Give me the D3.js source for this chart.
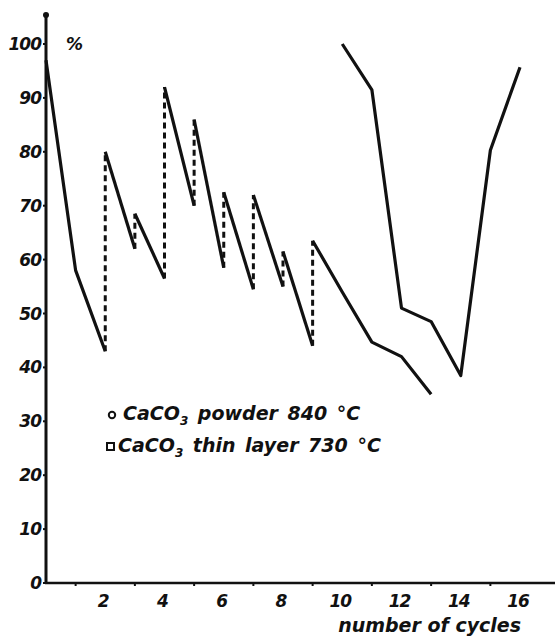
<!DOCTYPE html>
<html>
<head>
<meta charset="utf-8">
<script src="https://cdn.jsdelivr.net/npm/d3@7"></script>
<style>
  body { margin: 0; background: #fff; }
  svg { display: block; }
  text { font-family: "DejaVu Sans", sans-serif; font-style: italic; fill: #111; }
  .legend { white-space: pre; }
</style>
</head>
<body>
<div id="chart"></div>
<script>
// y ticks and x ticks
var yTicks = [0, 10, 20, 30, 40, 50, 60, 70, 80, 90, 100];
var xTicks = [2, 4, 6, 8, 10, 12, 14, 16];
var xMinor = [1, 3, 5, 7, 9, 11, 13, 15];

// CaCO3 powder 840 C: solid runs, joined by dashed jumps at the same cycle
var powderRuns = [
    [[0, 97], [1, 58], [2, 43]],
    [[2, 80], [3, 62]],
    [[3, 68.5], [4, 56.5]],
    [[4, 92], [5, 70]],
    [[5, 86], [6, 58.5]],
    [[6, 72.5], [7, 54.5]],
    [[7, 72], [8, 55]],
    [[8, 61.5], [9, 44]],
    [[9, 63.5], [10, 54], [11, 44.7], [12, 42], [13, 35]]
];

// CaCO3 thin layer 730 C
var layerCycles = [10, 11, 12, 13, 14, 15, 16];
var layerValues = [100, 91.5, 51, 48.5, 38.5, 80.3, 95.7];

var width = 555, height = 642;

var svg = d3.select('#chart')
    .append('svg')
    .attr('width', width)
    .attr('height', height);

var x = d3.scaleLinear().domain([0, 16]).range([46, 520]);
var y = d3.scaleLinear().domain([0, 100]).range([583, 44]);

var line = d3.line()
    .x(function(d) { return x(d[0]) })
    .y(function(d) { return y(d[1]) });

// axes
svg.append('line')
    .attr('x1', x(0)).attr('x2', x(0))
    .attr('y1', y(0) + 1).attr('y2', 14)
    .attr('stroke', '#111').attr('stroke-width', 3);
svg.append('circle')
    .attr('cx', x(0)).attr('cy', 15).attr('r', 3)
    .attr('fill', '#111');
svg.append('line')
    .attr('x1', x(0) - 1).attr('x2', width)
    .attr('y1', y(0)).attr('y2', y(0))
    .attr('stroke', '#111').attr('stroke-width', 2.5);

// y labels + small ticks
svg.selectAll('.ytick')
    .data(yTicks)
    .enter()
    .append('line')
    .attr('class', 'ytick')
    .attr('x1', x(0) - 3).attr('x2', x(0))
    .attr('y1', function(d) { return y(d) }).attr('y2', function(d) { return y(d) })
    .attr('stroke', '#111').attr('stroke-width', 2);
svg.selectAll('.ylab')
    .data(yTicks)
    .enter()
    .append('text')
    .attr('class', 'ylab')
    .attr('x', 41)
    .attr('y', function(d) { return y(d) + 6 })
    .attr('text-anchor', 'end')
    .attr('font-size', 17)
    .attr('font-weight', 'bold')
    .attr('letter-spacing', -1)
    .text(function(d) { return d });

svg.append('text')
    .attr('x', 66).attr('y', 50)
    .attr('font-size', 17)
    .attr('font-weight', 'bold')
    .text('%');

// x labels + minor ticks
svg.selectAll('.xlab')
    .data(xTicks)
    .enter()
    .append('text')
    .attr('class', 'xlab')
    .attr('x', function(d) { return x(d) - 2 })
    .attr('y', 607)
    .attr('text-anchor', 'middle')
    .attr('font-size', 17)
    .attr('font-weight', 'bold')
    .attr('letter-spacing', -1)
    .text(function(d) { return d });
svg.selectAll('.xminor')
    .data(xMinor)
    .enter()
    .append('line')
    .attr('class', 'xminor')
    .attr('x1', function(d) { return x(d) }).attr('x2', function(d) { return x(d) })
    .attr('y1', y(0)).attr('y2', y(0) + 3)
    .attr('stroke', '#111').attr('stroke-width', 2);

svg.append('text')
    .attr('x', 521).attr('y', 632)
    .attr('text-anchor', 'end')
    .attr('font-size', 19)
    .attr('font-weight', 'bold')
    .text('number of cycles');

// powder: dashed jumps
var jumps = [];
powderRuns.forEach(function(run, i) {
    if (i > 0) {
        var prev = powderRuns[i - 1];
        jumps.push([prev[prev.length - 1], run[0]]);
    }
});
svg.selectAll('.jump')
    .data(jumps)
    .enter()
    .append('path')
    .attr('class', 'jump')
    .attr('d', line)
    .attr('fill', 'none')
    .attr('stroke', '#111')
    .attr('stroke-width', 3)
    .attr('stroke-dasharray', '6,4');

svg.selectAll('.run')
    .data(powderRuns)
    .enter()
    .append('path')
    .attr('class', 'run')
    .attr('d', line)
    .attr('fill', 'none')
    .attr('stroke', '#111')
    .attr('stroke-width', 3.2)
    .attr('stroke-linejoin', 'round');

// thin layer
var layerPts = layerCycles.map(function(c, i) { return [c, layerValues[i]] });
svg.append('path')
    .datum(layerPts)
    .attr('d', line)
    .attr('fill', 'none')
    .attr('stroke', '#111')
    .attr('stroke-width', 3.2)
    .attr('stroke-linejoin', 'round');

// legend
var legend = [
    { label: 'CaCO', rest: ' powder 840 °C', shape: 'circle', tx: 123 },
    { label: 'CaCO', rest: ' thin layer 730 °C', shape: 'square', tx: 118 }
];
legend.forEach(function(d, i) {
    var ly = 420 + i * 32;
    if (d.shape == 'circle') {
        svg.append('circle')
            .attr('cx', 112).attr('cy', ly - 5).attr('r', 3.2)
            .attr('fill', 'none').attr('stroke', '#111').attr('stroke-width', 2);
    } else {
        svg.append('rect')
            .attr('x', 107).attr('y', ly - 9).attr('width', 7).attr('height', 7)
            .attr('fill', 'none').attr('stroke', '#111').attr('stroke-width', 2);
    }
    var t = svg.append('text')
        .attr('class', 'legend')
        .attr('x', d.tx).attr('y', ly)
        .attr('font-size', 19)
        .attr('font-weight', 600)
        .attr('word-spacing', 3);
    t.append('tspan').text(d.label);
    t.append('tspan').attr('font-size', 12).attr('dy', 5).text('3');
    t.append('tspan').attr('dy', -5).text(d.rest);
});
</script>
</body>
</html>
